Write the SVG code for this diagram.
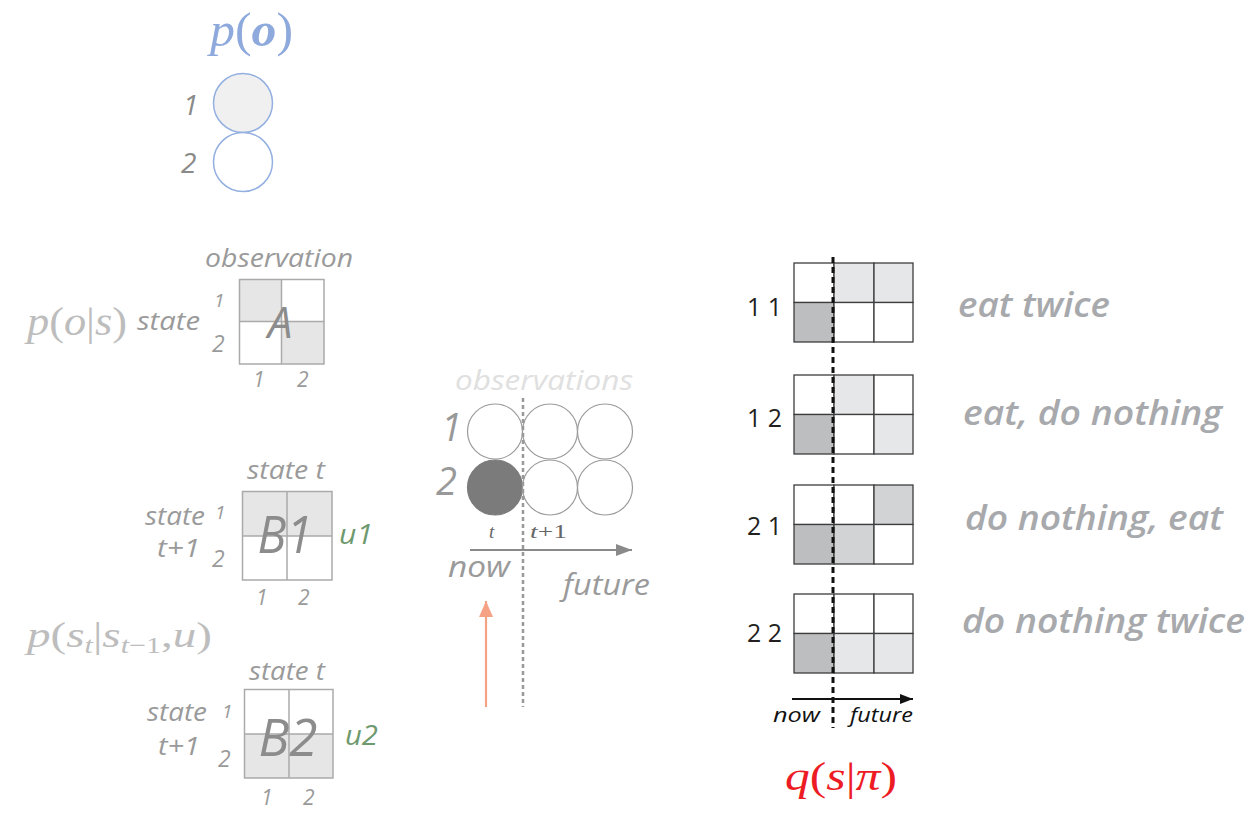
<svg xmlns="http://www.w3.org/2000/svg" width="1253" height="820" viewBox="0 0 1253 820">
<defs>
<style>
.sans{font-family:"Open Sans","Liberation Sans",sans-serif;font-style:italic;}
.gr{fill:#9a9a9a;}
.lg{fill:#bdbdbd;}
.math{font-family:"Liberation Serif","DejaVu Serif",serif;}
.mi{font-style:italic;}
.mat{fill:none;stroke:#aaaaaa;stroke-width:1.5}
.sh{fill:#e6e6e6}
.cell{stroke:#3d3d3d;stroke-width:1.3}
.w{fill:#ffffff}
.g1{fill:#e6e7e8}
.g2{fill:#d1d3d4}
.g3{fill:#bcbec0}
.lbl{font-family:"Open Sans","Liberation Sans",sans-serif;font-size:25px;fill:#231f20}
.pol{font-family:"Open Sans","Liberation Sans",sans-serif;font-style:italic;font-weight:600;font-size:34px;fill:#a7a9ac}
.grn{fill:#6f9a6f}
</style>
<marker id="mg" markerUnits="userSpaceOnUse" markerWidth="16" markerHeight="12" refX="16" refY="6" orient="auto"><path d="M0,0 L16,6 L0,12 z" fill="#8a8a8a"/></marker>
<marker id="mo" markerUnits="userSpaceOnUse" markerWidth="16" markerHeight="14" refX="16" refY="7" orient="auto"><path d="M0,0 L16,7 L0,14 z" fill="#f4a184"/></marker>
<marker id="mb" markerUnits="userSpaceOnUse" markerWidth="13" markerHeight="10" refX="13" refY="5" orient="auto"><path d="M0,0 L13,5 L0,10 z" fill="#111"/></marker>
</defs>
<rect width="1253" height="820" fill="#ffffff"/>

<g id="p-o">
<text x="210" y="46" class="math" font-size="48" fill="#8ea9dc" textLength="83" lengthAdjust="spacingAndGlyphs"><tspan class="mi">p</tspan>(<tspan class="mi" font-weight="bold">o</tspan>)</text>
<circle cx="243" cy="103" r="29.5" fill="#f0f0f0" stroke="#94b0e0" stroke-width="1.5"/>
<circle cx="243" cy="162" r="29.5" fill="#ffffff" stroke="#94b0e0" stroke-width="1.5"/>
<text x="183" y="115" class="sans" font-size="28" fill="#8a8a8a">1</text>
<text x="181" y="173" class="sans" font-size="28" fill="#8a8a8a">2</text>
</g>

<g id="A-matrix">
<text x="205" y="267" class="sans gr" font-size="26" textLength="148" lengthAdjust="spacingAndGlyphs">observation</text>
<text x="27" y="335" class="math lg" font-size="40" textLength="100" lengthAdjust="spacingAndGlyphs"><tspan class="mi">p</tspan>(<tspan class="mi">o</tspan>|<tspan class="mi">s</tspan>)</text>
<text x="137" y="330" class="sans gr" font-size="26" textLength="63" lengthAdjust="spacingAndGlyphs">state</text>
<text x="214" y="307" class="sans gr" font-size="19">1</text>
<text x="212" y="352" class="sans gr" font-size="23">2</text>
<rect x="239.5" y="279.5" width="42" height="42" class="sh"/>
<rect x="281.5" y="321.5" width="42.5" height="42.5" class="sh"/>
<rect x="239.5" y="279.5" width="84.5" height="84.5" class="mat"/>
<line x1="281.5" y1="279.5" x2="281.5" y2="364" class="mat"/>
<line x1="239.5" y1="321.5" x2="324" y2="321.5" class="mat"/>
<text x="280" y="338" class="sans" font-size="44" fill="#8c8c8c" text-anchor="middle">A</text>
<text x="253" y="387" class="sans gr" font-size="21">1</text>
<text x="297" y="387" class="sans gr" font-size="21">2</text>
</g>

<g id="B1-matrix">
<text x="247" y="479" class="sans gr" font-size="26" textLength="78" lengthAdjust="spacingAndGlyphs">state t</text>
<text x="145" y="525" class="sans gr" font-size="26" textLength="60" lengthAdjust="spacingAndGlyphs">state</text>
<text x="215" y="519" class="sans gr" font-size="19">1</text>
<text x="157" y="557" class="sans gr" font-size="25" textLength="43" lengthAdjust="spacingAndGlyphs">t+1</text>
<text x="212" y="567" class="sans gr" font-size="23">2</text>
<rect x="242.5" y="491.5" width="89.5" height="44.5" class="sh"/>
<rect x="242.5" y="491.5" width="89.5" height="88.5" class="mat"/>
<line x1="287" y1="491.5" x2="287" y2="580" class="mat"/>
<line x1="242.5" y1="536" x2="332" y2="536" class="mat"/>
<text x="285" y="553" class="sans" font-size="52" fill="#8c8c8c" text-anchor="middle" textLength="55" lengthAdjust="spacingAndGlyphs">B1</text>
<text x="339" y="544" class="sans grn" font-size="28" textLength="34" lengthAdjust="spacingAndGlyphs">u1</text>
<text x="256" y="605" class="sans gr" font-size="21">1</text>
<text x="298" y="605" class="sans gr" font-size="21">2</text>
</g>

<g id="B2-matrix">
<text x="27" y="647" class="math lg" font-size="36" textLength="185" lengthAdjust="spacingAndGlyphs"><tspan class="mi">p</tspan>(<tspan class="mi">s</tspan><tspan class="mi" font-size="23" dy="6">t</tspan><tspan dy="-6">|</tspan><tspan class="mi">s</tspan><tspan font-size="23" dy="6"><tspan class="mi">t</tspan>−1</tspan><tspan dy="-6">,</tspan><tspan class="mi">u</tspan>)</text>
<text x="249" y="680" class="sans gr" font-size="26" textLength="76" lengthAdjust="spacingAndGlyphs">state t</text>
<text x="147" y="721" class="sans gr" font-size="26" textLength="60" lengthAdjust="spacingAndGlyphs">state</text>
<text x="222" y="718" class="sans gr" font-size="19">1</text>
<text x="158" y="755" class="sans gr" font-size="25" textLength="42" lengthAdjust="spacingAndGlyphs">t+1</text>
<text x="218" y="767" class="sans gr" font-size="23">2</text>
<rect x="244.5" y="734" width="88.5" height="44" class="sh"/>
<rect x="244.5" y="689.5" width="88.5" height="88.5" class="mat"/>
<line x1="289" y1="689.5" x2="289" y2="778" class="mat"/>
<line x1="244.5" y1="734" x2="333" y2="734" class="mat"/>
<text x="288" y="756" class="sans" font-size="52" fill="#8c8c8c" text-anchor="middle" textLength="59" lengthAdjust="spacingAndGlyphs">B2</text>
<text x="345" y="745" class="sans grn" font-size="28" textLength="33" lengthAdjust="spacingAndGlyphs">u2</text>
<text x="261" y="805" class="sans gr" font-size="21">1</text>
<text x="303" y="805" class="sans gr" font-size="21">2</text>
</g>

<g id="observations">
<text x="455" y="390" class="sans" font-size="28" fill="#e0e0e0" textLength="178" lengthAdjust="spacingAndGlyphs">observations</text>
<text x="441" y="441" class="sans" font-size="38" fill="#999">1</text>
<text x="436" y="495" class="sans" font-size="38" fill="#999">2</text>
<circle cx="495" cy="431.5" r="27.5" fill="#fff" stroke="#9a9a9a" stroke-width="1.2"/>
<circle cx="550" cy="431.5" r="27.5" fill="#fff" stroke="#9a9a9a" stroke-width="1.2"/>
<circle cx="605" cy="431.5" r="27.5" fill="#fff" stroke="#9a9a9a" stroke-width="1.2"/>
<circle cx="495" cy="487.5" r="27.5" fill="#7b7b7c" stroke="#7b7b7c" stroke-width="1.2"/>
<circle cx="550" cy="487.5" r="27.5" fill="#fff" stroke="#9a9a9a" stroke-width="1.2"/>
<circle cx="605" cy="487.5" r="27.5" fill="#fff" stroke="#9a9a9a" stroke-width="1.2"/>
<text x="489" y="538" class="math mi" font-size="19" fill="#666">t</text>
<text x="530" y="538" class="math" font-size="19" fill="#666" textLength="37" lengthAdjust="spacingAndGlyphs"><tspan class="mi">t</tspan>+1</text>
<text x="448" y="577" class="sans gr" font-size="30" textLength="62" lengthAdjust="spacingAndGlyphs">now</text>
<text x="563" y="595" class="sans gr" font-size="30" textLength="87" lengthAdjust="spacingAndGlyphs">future</text>
</g>

<g id="policies">
<g id="policy-11">
<text x="747" y="316" class="lbl" textLength="35" lengthAdjust="spacingAndGlyphs">1 1</text>
<rect x="794" y="263" width="40" height="39.5" class="cell w"/><rect x="834" y="263" width="40" height="39.5" class="cell g1"/><rect x="874" y="263" width="39" height="39.5" class="cell g1"/>
<rect x="794" y="302.5" width="40" height="39.5" class="cell g3"/><rect x="834" y="302.5" width="40" height="39.5" class="cell w"/><rect x="874" y="302.5" width="39" height="39.5" class="cell w"/>
<text x="958" y="317" class="pol" textLength="152" lengthAdjust="spacingAndGlyphs">eat twice</text>
</g>
<g id="policy-12">
<text x="747" y="427" class="lbl" textLength="35" lengthAdjust="spacingAndGlyphs">1 2</text>
<rect x="794" y="375" width="40" height="39.5" class="cell w"/><rect x="834" y="375" width="40" height="39.5" class="cell g1"/><rect x="874" y="375" width="39" height="39.5" class="cell w"/>
<rect x="794" y="414.5" width="40" height="39.5" class="cell g3"/><rect x="834" y="414.5" width="40" height="39.5" class="cell w"/><rect x="874" y="414.5" width="39" height="39.5" class="cell g1"/>
<text x="963" y="425" class="pol" textLength="259" lengthAdjust="spacingAndGlyphs">eat, do nothing</text>
</g>
<g id="policy-21">
<text x="747" y="535" class="lbl" textLength="35" lengthAdjust="spacingAndGlyphs">2 1</text>
<rect x="794" y="485" width="40" height="39.5" class="cell w"/><rect x="834" y="485" width="40" height="39.5" class="cell w"/><rect x="874" y="485" width="39" height="39.5" class="cell g2"/>
<rect x="794" y="524.5" width="40" height="39.5" class="cell g3"/><rect x="834" y="524.5" width="40" height="39.5" class="cell g2"/><rect x="874" y="524.5" width="39" height="39.5" class="cell w"/>
<text x="965" y="530" class="pol" textLength="258" lengthAdjust="spacingAndGlyphs">do nothing, eat</text>
</g>
<g id="policy-22">
<text x="747" y="642" class="lbl" textLength="35" lengthAdjust="spacingAndGlyphs">2 2</text>
<rect x="794" y="594" width="40" height="39.5" class="cell w"/><rect x="834" y="594" width="40" height="39.5" class="cell w"/><rect x="874" y="594" width="39" height="39.5" class="cell w"/>
<rect x="794" y="633.5" width="40" height="39.5" class="cell g3"/><rect x="834" y="633.5" width="40" height="39.5" class="cell g1"/><rect x="874" y="633.5" width="39" height="39.5" class="cell g1"/>
<text x="962" y="633" class="pol" textLength="283" lengthAdjust="spacingAndGlyphs">do nothing twice</text>
</g>
<text x="773" y="722" class="sans" font-size="20" fill="#111" textLength="47" lengthAdjust="spacingAndGlyphs">now</text>
<text x="850" y="722" class="sans" font-size="20" fill="#111" textLength="63" lengthAdjust="spacingAndGlyphs">future</text>
<text x="785" y="790" class="math" font-size="40" fill="#ed1c24" textLength="112" lengthAdjust="spacingAndGlyphs"><tspan class="mi">q</tspan>(<tspan class="mi">s</tspan>|<tspan class="mi">π</tspan>)</text>
</g>

<g id="connectors">
<line x1="523" y1="398" x2="523" y2="707" stroke="#999" stroke-width="2.5" stroke-dasharray="4 3"/>
<line x1="470" y1="550" x2="632" y2="550" stroke="#8a8a8a" stroke-width="2" marker-end="url(#mg)"/>
<line x1="486" y1="707" x2="486" y2="601" stroke="#f4a184" stroke-width="2.2" marker-end="url(#mo)"/>
<line x1="833" y1="257" x2="833" y2="728" stroke="#111" stroke-width="3" stroke-dasharray="6 4"/>
<line x1="792" y1="699" x2="913" y2="699" stroke="#111" stroke-width="2" marker-end="url(#mb)"/>
</g>
</svg>
